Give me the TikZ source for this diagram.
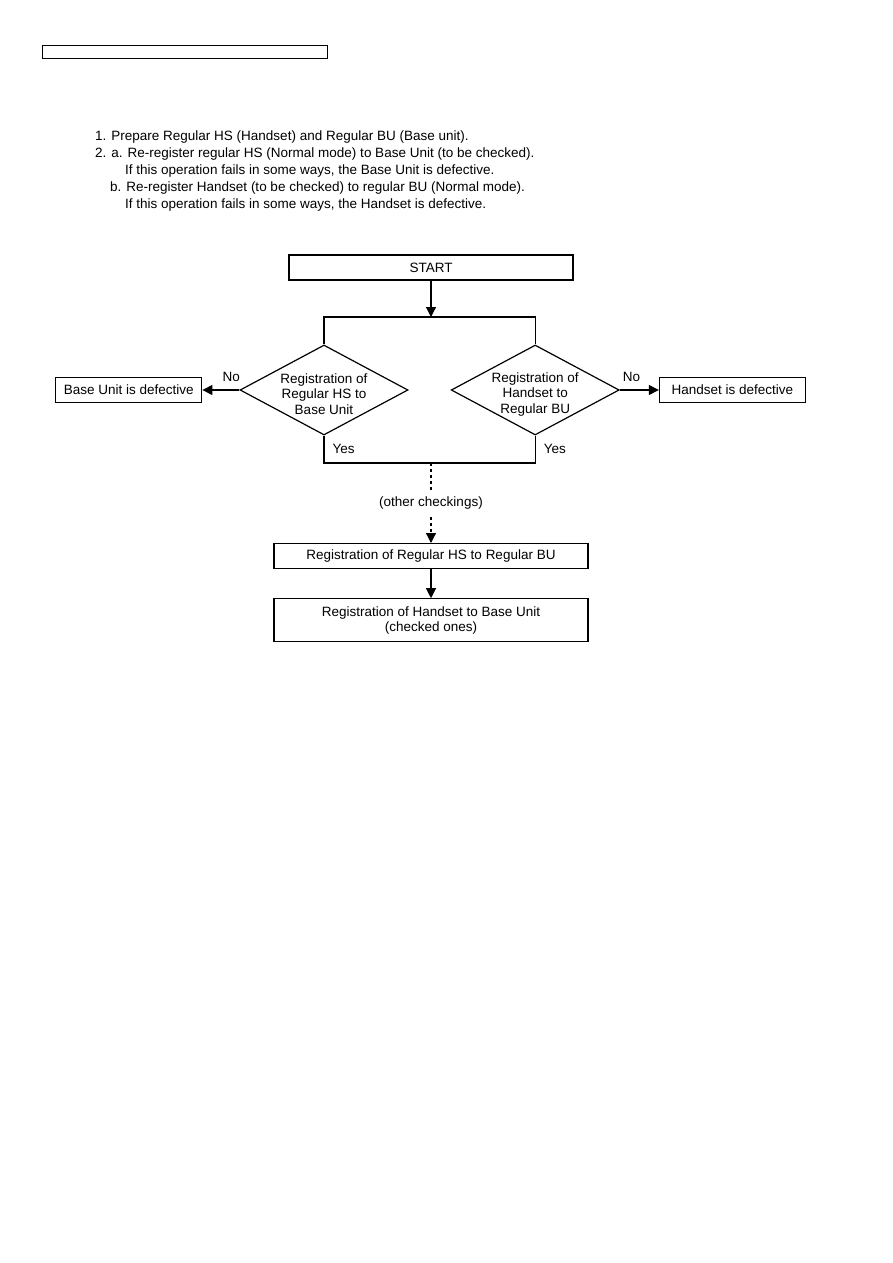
\documentclass[tikz,border=0pt]{standalone}
\usepackage{fontspec}
\setmainfont{Liberation Sans}
\usetikzlibrary{arrows.meta, shapes.geometric, positioning}

\begin{document}
\begin{tikzpicture}[
  x=1pt, y=-1pt,
  font=\fontsize{13.5}{15.5}\selectfont,
  box/.style = {
    rectangle, draw=black, line width=1.2pt,
    minimum width=314pt, minimum height=25pt,
    align=center, inner sep=2pt
  },
  decision/.style = {
    diamond, aspect=1.867, draw=black, line width=1.2pt,
    minimum width=168pt, minimum height=90pt,
    align=center, inner sep=-6pt
  },
  result/.style = {
    rectangle, draw=black, line width=1.2pt,
    minimum width=146pt, minimum height=25pt,
    inner sep=2pt
  },
  line/.style = {line width=1.2pt},
  arr/.style = {-{Triangle[length=10pt, width=10pt]}, line width=1.2pt},
  darr/.style = {arr, dash pattern=on 3pt off 3pt},
  lbl/.style = {inner sep=3pt}
]
\useasboundingbox (0,0) rectangle (893,1263);

% Page header
\node[rectangle, draw, line width=1pt, minimum width=285pt,
      minimum height=13pt, inner sep=0pt] (header) at (184.5,52.5) {};

% Procedure
\node[anchor=north west, align=left, inner sep=0pt,
      font=\fontsize{13.5}{17}\selectfont] (steps) at (95,131) {%
  1. Prepare Regular HS (Handset) and Regular BU (Base unit).\\
  2. a. Re-register regular HS (Normal mode) to Base Unit (to be checked).\\
  \phantom{2.~a.~}If this operation fails in some ways, the Base Unit is defective.\\
  \phantom{2.~}b. Re-register Handset (to be checked) to regular BU (Normal mode).\\
  \phantom{2.~a.~}If this operation fails in some ways, the Handset is defective.};

% Start and the two checks
\node[box, minimum width=284pt] (start) at (431,267.5) {START};
\coordinate (split) at (431,317);
\node[decision] (regA) at (324,390)
  {\rule{0pt}{18pt}Registration of\\Regular HS to\\Base Unit};
\node[decision, right=42pt of regA] (regB)
  {\rule{0pt}{18pt}Registration of\\Handset to\\Regular BU};
\node[result, left=37pt of regA] (baseBad) {Base Unit is defective};
\node[result, right=39pt of regB] (hsBad) {Handset is defective};
\coordinate (merge) at (431,463);

% Final registration
\node[box, below=80pt of merge] (regC) {Registration of Regular HS to Regular BU};
\node[box, below=29pt of regC, minimum height=43pt] (regD)
  {Registration of Handset to Base Unit\\(checked ones)};

% Connectors
\draw[arr] (start) -- (split);
\draw[line] (regA.north) -- (regA.north |- split) -- (regB.north |- split) -- (regB.north);
\draw[arr] (regA) -- node[lbl, above=5pt, pos=.22] {No} (baseBad);
\draw[arr] (regB) -- node[lbl, above=5pt, pos=.3] {No} (hsBad);
\draw[line] (regA.south) -- node[lbl, right=5pt] {Yes} (regA.south |- merge)
  -- (regB.south |- merge) -- node[lbl, right=5pt] {Yes} (regB.south);
\draw[darr] (merge) -- node[fill=white, inner sep=5pt] {(other checkings)} (regC);
\draw[arr] (regC) -- (regD);
\end{tikzpicture}
\end{document}
